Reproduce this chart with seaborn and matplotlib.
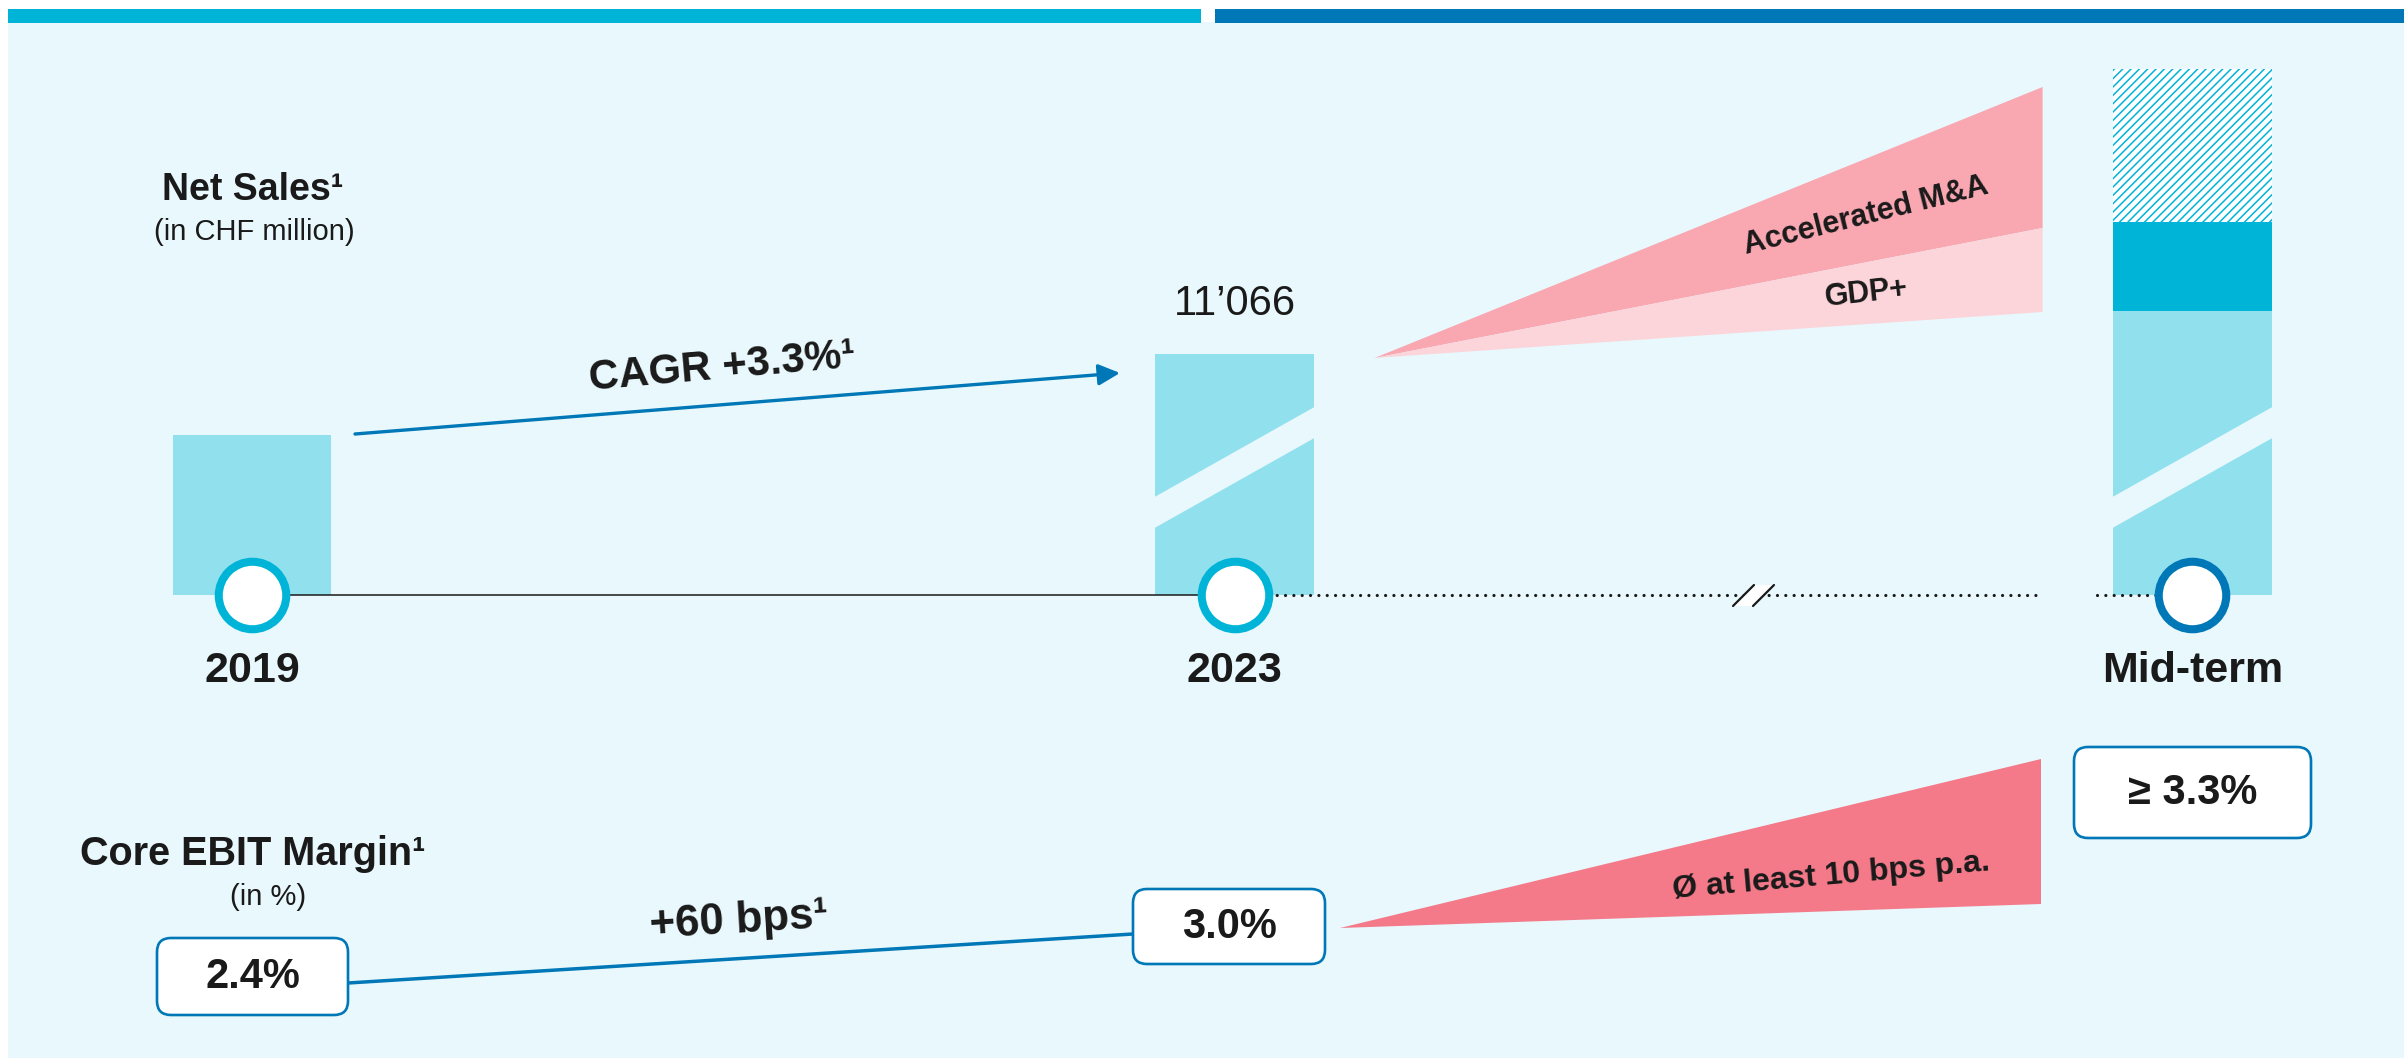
import numpy as np
import matplotlib
matplotlib.use("Agg")
import matplotlib.pyplot as plt
from matplotlib.patches import Rectangle, FancyBboxPatch, Polygon, FancyArrowPatch
import seaborn as sns

# ---------------------------------------------------------------- data
periods = ["2019", "2023", "Mid-term"]
timeline = [2019.0, 2023.0, 2026.9]        # mid-term sits beyond the axis break
sales_height = [160, 241, 284]             # bar heights on the (broken) sales scale
sales_label_2023 = "11\u2019066"           # CHF million
midterm_gdp_plus = 89                      # organic GDP+ layer of the mid-term bar
midterm_mna = 153                          # accelerated M&A layer (hatched)
fan_start = 237                            # growth fan starts at the 2023 level
fan_end = [283, 367, 508]                  # GDP+ floor, GDP+/M&A split, M&A ceiling
fan_labels = ["GDP+", "Accelerated M&A"]
cagr_label = "CAGR +3.3%\u00b9"
margin_values = [2.4, 3.0]                 # core EBIT margin, %
margin_target = 3.3
margin_step_label = "+60 bps\u00b9"
margin_fan_label = "\u00d8 at least 10 bps p.a."

# ---------------------------------------------------------------- style
PANEL = "#E8F8FC"
LIGHT = "#91E0EE"
CYAN = "#00B4D8"
NAVY = "#0077B6"
PINK_DARK = "#F9A8B2"
PINK_LIGHT = "#FCD5DB"
PINK_STRONG = "#F47A8A"
INK = "#1A1A1A"

sns.set_theme(style="white")
plt.rcParams["font.family"] = ["Liberation Sans", "DejaVu Sans"]
plt.rcParams["hatch.linewidth"] = 1.1

W, H, DPI = 2404, 1060, 100
fig = plt.figure(figsize=(W / DPI, H / DPI), dpi=DPI, facecolor="white")


def fig_rect(x0, y0, x1, y1, color):
    """Rectangle in figure pixels (origin top-left), behind all axes."""
    fig.patches.append(Rectangle((x0 / W, 1 - y1 / H), (x1 - x0) / W, (y1 - y0) / H,
                                 transform=fig.transFigure, facecolor=color,
                                 linewidth=0, zorder=-5))


fig_rect(8, 22, W, 1058, PANEL)
fig_rect(8, 9, 1201, 23, CYAN)
fig_rect(1215, 9, W, 23, NAVY)

# ---------------------------------------------------------------- sales axes
PX_PER_YEAR = (1234.5 - 252.0) / 4.0      # horizontal scale of the timeline
BASE_PX = 595                              # baseline of the bars, pixels from top
ax = fig.add_axes([0, 0, 1, 1])
ax.patch.set_visible(False)

bar_w = 158.5 / PX_PER_YEAR
x_mid = timeline[2]

# mid-term stack drawn as cumulative layers, tallest first
sns.barplot(x=[x_mid], y=[sales_height[2] + midterm_gdp_plus + midterm_mna],
            native_scale=True, width=bar_w, color="white", edgecolor=CYAN,
            hatch="////", linewidth=0, saturation=1, errorbar=None, ax=ax)
sns.barplot(x=[x_mid], y=[sales_height[2] + midterm_gdp_plus],
            native_scale=True, width=bar_w, color=CYAN, edgecolor=CYAN,
            linewidth=0, saturation=1, errorbar=None, ax=ax)
sns.barplot(x=timeline, y=sales_height, native_scale=True,
            width=bar_w / np.diff(timeline).min(), color=LIGHT, edgecolor=LIGHT,
            linewidth=0, saturation=1, errorbar=None, ax=ax)

# scale-break slashes through the 2023 and mid-term bars
for xc in timeline[1:]:
    L, R = xc - bar_w / 2 - 0.01, xc + bar_w / 2 + 0.01
    ax.add_patch(Polygon([(L, 66), (L, 97), (R, 189), (R, 158)], closed=True,
                         facecolor=PANEL, linewidth=0, zorder=3))

# growth fan from 2023 towards the mid-term bar
fan_x0, fan_x1 = 2023.57, 2026.29
ax.fill([fan_x0, fan_x1, fan_x1], [fan_start, fan_end[1], fan_end[2]],
        color=PINK_DARK, linewidth=0, zorder=2)
ax.fill([fan_x0, fan_x1, fan_x1], [fan_start, fan_end[0], fan_end[1]],
        color=PINK_LIGHT, linewidth=0, zorder=2)

# timeline
ax.plot(timeline[:2], [0, 0], color=INK, lw=1.1, zorder=4)
dots = dict(color=INK, lw=2.3, linestyle=(0, (0.01, 2.6)),
            dash_capstyle="round", zorder=4)
ax.plot([timeline[1], 2026.288], [0, 0], **dots)
ax.plot([2026.512, timeline[2]], [0, 0], **dots)

sns.scatterplot(x=timeline[:2], y=[0, 0], s=2362, color="white", edgecolor=CYAN,
                linewidth=5.8, legend=False, zorder=6, ax=ax)
sns.scatterplot(x=timeline[2:], y=[0], s=2362, color="white", edgecolor=NAVY,
                linewidth=5.8, legend=False, zorder=6, ax=ax)

ax.text(timeline[1], sales_height[1] + 50, sales_label_2023, ha="center",
        va="center", fontsize=30, color=INK, zorder=7)
for xc, lab in zip(timeline, periods):
    ax.text(xc, -76, lab, ha="center", va="center", fontsize=31,
            fontweight="bold", color=INK, zorder=7)

ax.set_xlim(2019 - 252 / PX_PER_YEAR, 2019 + (W - 252) / PX_PER_YEAR)
ax.set_ylim(BASE_PX - H, BASE_PX)
ax.set_axis_off()

# ---------------------------------------------------------------- annotation layer (pixels)
ov = fig.add_axes([0, 0, 1, 1])
ov.patch.set_visible(False)

bold = dict(fontweight="bold", color=INK, ha="center", va="center",
            rotation_mode="anchor")

ov.text(253, 190, "Net Sales\u00b9", fontsize=27, **bold)
ov.text(254, 232, "(in CHF million)", fontsize=21, color=INK, ha="center", va="center")

ov.add_patch(FancyArrowPatch((355, 434), (1120, 373),
                             arrowstyle="-|>,head_length=0.65,head_width=0.32",
                             mutation_scale=20, lw=2.4, color=NAVY,
                             shrinkA=0, shrinkB=0, zorder=3))
ov.text(722, 367, cagr_label, fontsize=30, rotation=5, **bold)

ov.text(1866, 216, fan_labels[1], fontsize=22, rotation=14, **bold)
ov.text(1866, 293, fan_labels[0], fontsize=22, rotation=6.5, **bold)

# axis-break marker on the dotted timeline
ov.add_patch(Polygon([(1733, 606), (1754, 585), (1774, 585), (1753, 606)],
                     closed=True, facecolor="white", linewidth=0, zorder=4))
for dx in (0, 20):
    ov.plot([1733 + dx, 1754 + dx], [606, 585], color=INK, lw=1.6, zorder=5)

# core EBIT margin section
ov.text(253, 854, "Core EBIT Margin\u00b9", fontsize=28.5, **bold)
ov.text(268, 897, "(in %)", fontsize=21, color=INK, ha="center", va="center")

sns.lineplot(x=[252, 1229], y=[989, 928], color=NAVY, lw=2.5, ax=ov, zorder=1)
ov.text(739, 921, margin_step_label, fontsize=31.5, rotation=3.5, **bold)

ov.add_patch(Polygon([(1340, 928), (2041, 759), (2041, 904)], closed=True,
                     facecolor=PINK_STRONG, linewidth=0, zorder=1))
ov.text(1831, 876, margin_fan_label, fontsize=23, rotation=5, **bold)

boxes = [((252.5, 976.5), 191, 77, f"{margin_values[0]:.1f}%"),
         ((1229, 926.5), 192, 75, f"{margin_values[1]:.1f}%"),
         ((2192.5, 792.5), 237, 91, f"\u2265 {margin_target:.1f}%")]
for (cx, cy), bw, bh, lab in boxes:
    ov.add_patch(FancyBboxPatch((cx - bw / 2, cy - bh / 2), bw, bh,
                                boxstyle="round,pad=0,rounding_size=14",
                                facecolor="white", edgecolor=NAVY, lw=1.9, zorder=3))
    ov.text(cx, cy, lab, fontsize=30, zorder=4, **bold)

ov.set_xlim(0, W)
ov.set_ylim(H, 0)
ov.set_axis_off()

fig.savefig("out.png", dpi=DPI, facecolor="white")
